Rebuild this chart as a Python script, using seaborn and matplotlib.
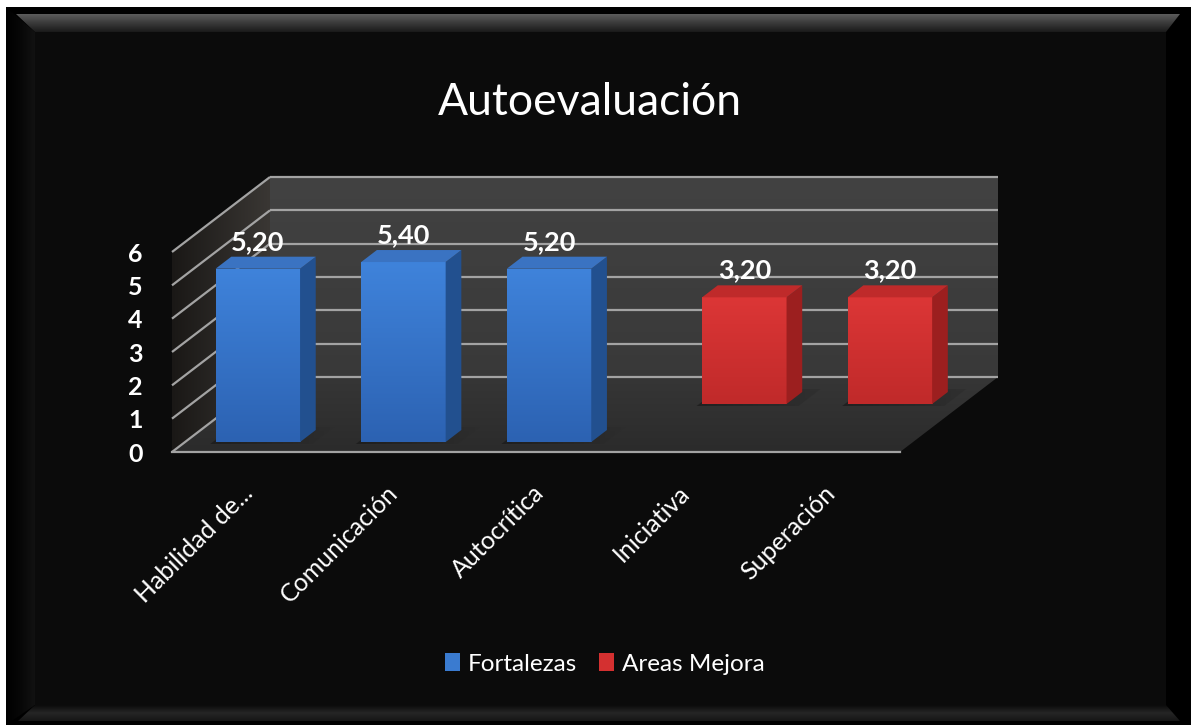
import numpy as np
import pandas as pd
import matplotlib
matplotlib.use("Agg")
import matplotlib.pyplot as plt
import seaborn as sns
from matplotlib.patches import Polygon, Rectangle
from matplotlib.colors import LinearSegmentedColormap
from matplotlib.transforms import Affine2D, offset_copy

# ---- data ----
categories = ["Habilidad de...", "Comunicación", "Autocrítica", "Iniciativa", "Superación"]
fortalezas = [5.2, 5.4, 5.2, None, None]
areas_mejora = [None, None, None, 3.2, 3.2]
series_names = ["Fortalezas", "Areas Mejora"]
value_ticks = [0, 1, 2, 3, 4, 5, 6]
chart_title = "Autoevaluación"

# ---- styling ----
series_colors = {"Fortalezas": "#3a7bd0", "Areas Mejora": "#d43030"}
face_shades = {
    "Fortalezas": dict(front=["#3f83db", "#2c62b2"], side="#22508f", top="#3a73c2"),
    "Areas Mejora": dict(front=["#dc3636", "#c02a2a"], side="#9c1f1f", top="#bf2a2a"),
}
row_depth = {"Fortalezas": 0.133, "Areas Mejora": 0.64}
bar_depth = 0.16
grid_color = "#a3a3a3"

plt.rcParams["font.family"] = ["Lato", "DejaVu Sans"]

W, H = 1191, 725
fig = plt.figure(figsize=(W / 100, H / 100), dpi=100, facecolor="white")


def gradient_fill(axis, pts, colors, horizontal=False, zorder=1, clip=None, alpha=None):
    """Fill a polygon with a linear colour ramp (top->bottom or left->right)."""
    poly = Polygon(pts, closed=True, facecolor="none", edgecolor="none",
                   zorder=zorder, clip_on=False)
    axis.add_patch(poly)
    xs = [p[0] for p in pts]
    ys = [p[1] for p in pts]
    cmap = LinearSegmentedColormap.from_list("ramp", colors)
    ramp = np.linspace(0, 1, 256)
    arr = ramp.reshape(1, -1) if horizontal else ramp.reshape(-1, 1)
    if axis.yaxis_inverted():
        top, bottom = min(ys), max(ys)
    else:
        top, bottom = max(ys), min(ys)
    im = axis.imshow(arr, cmap=cmap, extent=(min(xs), max(xs), bottom, top),
                     origin="upper", aspect="auto", interpolation="bilinear",
                     zorder=zorder, alpha=alpha)
    im.set_clip_box(fig.bbox)
    im.set_clip_path(clip if clip is not None else poly)
    return im


# ---- background panel with bevelled frame ----
bg = fig.add_axes([0, 0, 1, 1])
bg.axis("off")
bg.set_xlim(0, W)
bg.set_ylim(H, 0)
bg.add_patch(Rectangle((6, 7), W - 6, H - 7, facecolor="#000000", edgecolor="none", zorder=0))
bg.add_patch(Rectangle((35, 32), 1131, 673, facecolor="#0b0b0b", edgecolor="none", zorder=0.5))
gradient_fill(bg, [(16, 14), (1180, 14), (1166, 32), (35, 32)],
              ["#5c5c5c", "#3a3a3a", "#1a1a1a"], zorder=1)
gradient_fill(bg, [(6, 7), (35, 32), (35, 705), (6, 725)],
              ["#000000", "#070707", "#121212"], horizontal=True, zorder=1)
gradient_fill(bg, [(35, 705), (1166, 705), (1180, 721), (18, 721)],
              ["#0b0b0b", "#262626", "#151515"], zorder=1)

# ---- plot area: the front plane of the 3-D box ----
left_px, right_px, base_px, top_px = 172, 900, 452, 252
ax = fig.add_axes([left_px / W, (H - base_px) / H,
                   (right_px - left_px) / W, (base_px - top_px) / H])
ax.patch.set_visible(False)

n = len(categories)
DX = 98 / ((right_px - left_px) / n)        # full depth, in category units
DY = 75 / ((base_px - top_px) / 6)          # full depth, in value units


def proj(c, v, d):
    return (c + d * DX, v + d * DY)


# walls and floor
gradient_fill(ax, [proj(-0.5, 0, 1), proj(4.5, 0, 1), proj(4.5, 6, 1), proj(-0.5, 6, 1)],
              ["#424242", "#393939"], zorder=1)
gradient_fill(ax, [proj(-0.5, 0, 0), proj(-0.5, 0, 1), proj(-0.5, 6, 1), proj(-0.5, 6, 0)],
              ["#1a1816", "#3a3734"], horizontal=True, zorder=1)
gradient_fill(ax, [proj(-0.5, 0, 0), proj(4.5, 0, 0), proj(4.5, 0, 1), proj(-0.5, 0, 1)],
              ["#363636", "#2b2b2b"], zorder=1)

# gridlines on back wall and side wall
for v in value_ticks:
    (xa, ya), (xb, yb) = proj(-0.5, v, 1), proj(4.5, v, 1)
    ax.plot([xa, xb], [ya, yb], color=grid_color, lw=1.6, clip_on=False, zorder=2,
            solid_capstyle="butt")
    (xa, ya), (xb, yb) = proj(-0.5, v, 0), proj(-0.5, v, 1)
    ax.plot([xa, xb], [ya, yb], color=grid_color, lw=1.6, clip_on=False, zorder=2,
            solid_capstyle="butt")
(xa, ya), (xb, yb) = proj(-0.5, 0, 0), proj(4.5, 0, 0)
ax.plot([xa, xb], [ya, yb], color=grid_color, lw=1.6, clip_on=False, zorder=2)

# ---- bars ----
rows = []
for name, vals in zip(series_names, [fortalezas, areas_mejora]):
    for cat, v in zip(categories, vals):
        if v is not None:
            rows.append({"categoria": cat, "valor": v, "serie": name})
df = pd.DataFrame(rows)

sns.barplot(data=df, x="categoria", y="valor", hue="serie", order=categories,
            hue_order=series_names, palette=series_colors, dodge=False, width=0.58,
            saturation=1, errorbar=None, ax=ax)
handles, labels = ax.get_legend_handles_labels()
if ax.get_legend() is not None:
    ax.get_legend().remove()

bars = [p for p in ax.patches if isinstance(p, Rectangle)]
for p in bars:
    h = p.get_height()
    if not np.isfinite(h) or h <= 0:
        continue
    x0 = p.get_x()
    x1 = x0 + p.get_width()
    i = int(round((x0 + x1) / 2))
    name = series_names[0] if fortalezas[i] is not None else series_names[1]
    shades = face_shades[name]
    d0 = row_depth[name]
    d1 = d0 + bar_depth
    z = 3 if name == series_names[1] else 6

    # soft shadow on the floor around the foot of the bar
    gradient_fill(ax, [proj(x0 - 0.02, 0, d0 - 0.03), proj(x1 + 0.1, 0, d0 - 0.03),
                       proj(x1 + 0.1, 0, d1 + 0.04), proj(x0 - 0.02, 0, d1 + 0.04)],
                  ["#161616", "#2e2e2e"], horizontal=True, zorder=2.5, alpha=0.6)

    # front face: the seaborn bar pushed back to its row
    p.set_transform(Affine2D().translate(d0 * DX, d0 * DY) + ax.transData)
    p.set_clip_on(False)
    p.set_zorder(z)
    p.set_edgecolor("none")
    gradient_fill(ax, [proj(x0, 0, d0), proj(x1, 0, d0), proj(x1, h, d0), proj(x0, h, d0)],
                  shades["front"], zorder=z + 0.1, clip=p)

    side = Polygon([proj(x1, 0, d0), proj(x1, 0, d1), proj(x1, h, d1), proj(x1, h, d0)],
                   closed=True, facecolor=shades["side"], edgecolor="none",
                   clip_on=False, zorder=z + 0.2)
    top = Polygon([proj(x0, h, d0), proj(x1, h, d0), proj(x1, h, d1), proj(x0, h, d1)],
                  closed=True, facecolor=shades["top"], edgecolor="none",
                  clip_on=False, zorder=z + 0.2)
    ax.add_patch(side)
    ax.add_patch(top)

    cx, ly = proj((x0 + x1) / 2, h, d0)[0], proj(0, h, d1)[1]
    ax.text(cx, ly, f"{h:.2f}".replace(".", ","),
            transform=offset_copy(ax.transData, fig=fig, y=3, units="dots"),
            ha="center", va="bottom", color="white", fontsize=19.5,
            fontweight="bold", zorder=10)

# ---- axes cosmetics ----
for s in ax.spines.values():
    s.set_visible(False)
ax.grid(False)
ax.set_xlabel("")
ax.set_ylabel("")
ax.set_xticks([])
cat_label_tr = offset_copy(ax.get_xaxis_transform(), fig=fig, x=-4, y=-29, units="dots")
for i, cat in enumerate(categories):
    ax.text(i, 0, cat, transform=cat_label_tr, rotation=45, rotation_mode="anchor",
            ha="right", va="top", color="white", fontsize=18)
ax.set_yticks(value_ticks)
ax.set_yticklabels([str(t) for t in value_ticks], color="white", fontsize=18,
                   fontweight="bold")
ax.tick_params(axis="y", length=0, pad=21)
ax.set_xlim(-0.5, n - 0.5)
ax.set_ylim(0, 6)
bg.set_xlim(0, W)
bg.set_ylim(H, 0)

fig.text(590 / W, 1 - 115 / H, chart_title, ha="center", va="baseline",
         color="white", fontsize=32)

fig.legend(handles, labels, loc="center", bbox_to_anchor=(605 / W, 1 - 664 / H),
           ncol=2, frameon=False, fontsize=17.5, labelcolor="white",
           handlelength=0.6, handleheight=0.7, handletextpad=0.35,
           columnspacing=0.9)

fig.savefig("out.png", dpi=100, facecolor=fig.get_facecolor())
